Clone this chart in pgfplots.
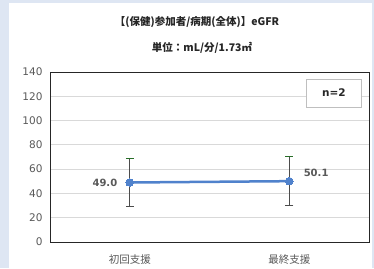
\documentclass[border=0pt]{standalone}
\usepackage{fontspec}
\setmainfont{DejaVu Sans}
\newfontfamily\cjk{Noto Sans CJK JP}
\usepackage{pgfplots}
\pgfplotsset{compat=1.18}
\definecolor{bgblue}{RGB}{222,230,243}
\definecolor{lineblue}{RGB}{80,130,204}
\definecolor{gridgray}{RGB}{217,217,217}
\definecolor{txtgray}{RGB}{89,89,89}
\definecolor{capgreen}{RGB}{40,110,40}
\begin{document}
\begin{tikzpicture}[x=1pt,y=1pt]
\useasboundingbox (0,0) rectangle (374,268);
\fill[bgblue] (0,0) rectangle (374,268);
\fill[white] (9,0) rectangle (372,265);
\node[font=\cjk\bfseries\fontsize{10.5}{12}\selectfont, text=black!85] at (197,246) {【(保健)参加者/病期(全体)】eGFR};
\node[font=\cjk\bfseries\fontsize{10.5}{12}\selectfont, text=black!85] at (202,220) {単位：mL/分/1.73㎡};
\begin{axis}[
  at={(50pt,26pt)}, anchor=south west, scale only axis,
  width=319pt, height=170pt,
  xmin=-0.5, xmax=1.5, ymin=0, ymax=140,
  ytick={0,20,...,140},
  xtick={0,1}, xticklabels={初回支援,最終支援},
  ymajorgrids, grid style={gridgray, line width=0.8pt},
  axis line style={black!85, line width=1pt},
  tick style={draw=none},
  yticklabel style={font=\fontsize{10.5}{12}\selectfont, text=txtgray, xshift=-4pt},
  xticklabel style={font=\cjk\fontsize{10.5}{12}\selectfont, text=txtgray, yshift=-9pt},
  /pgf/number format/assume math mode=true,
]
\addplot[draw=none, mark=none, forget plot,
  error bars/.cd, y dir=minus, y explicit,
  error bar style={draw=black!70, line width=0.9pt},
  error mark options={rotate=90, draw=black!70, line width=1pt, mark size=4pt}]
  coordinates {(0,49.0) +- (0,20) (1,50.1) +- (0,20)};
\addplot[draw=none, mark=none, forget plot,
  error bars/.cd, y dir=plus, y explicit,
  error bar style={draw=black!70, line width=0.9pt},
  error mark options={rotate=90, draw=capgreen, line width=1.2pt, mark size=4pt}]
  coordinates {(0,49.0) +- (0,20) (1,50.1) +- (0,20)};
\addplot[lineblue, line width=2.5pt, mark=*, mark size=3.8pt,
  mark options={fill=lineblue, draw=lineblue, line width=0pt}]
  coordinates {(0,49.0) (1,50.1)};
\node[anchor=east, font=\bfseries\fontsize{10}{12}\selectfont, text=txtgray, xshift=-9pt] at (axis cs:0,49.0) {49.0};
\node[anchor=west, font=\bfseries\fontsize{10}{12}\selectfont, text=txtgray, xshift=11pt, yshift=8pt] at (axis cs:1,50.1) {50.1};
\node[draw=gray!50, line width=0.8pt, fill=white, minimum width=55pt, minimum height=28pt, font=\bfseries\fontsize{10.5}{12}\selectfont, text=black!85] at (rel axis cs:0.89,0.876) {n=2};
\end{axis}
\end{tikzpicture}
\end{document}
